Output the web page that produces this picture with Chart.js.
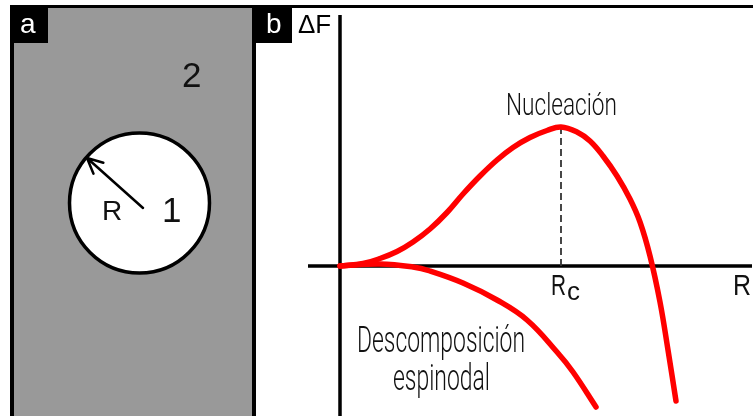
<!DOCTYPE html>
<html>
<head>
<meta charset="utf-8">
<script src="https://cdn.jsdelivr.net/npm/chart.js@4/dist/chart.umd.min.js"></script>
<style>
  html, body { margin: 0; padding: 0; background: #fff; }
  #wrap { width: 753px; height: 416px; }
</style>
</head>
<body>
<div id="wrap"><canvas id="c" width="753" height="416"></canvas></div>
<script>
// Free-energy change vs. radius (arbitrary units)
const nucleacionR = [0, 2.3, 4.0, 5.7, 7.3, 9.0, 10.7, 12.3, 14.0, 15.7, 17.3, 19.0, 20.7, 22.1, 23.7, 25.0, 26.3, 27.7, 29.0, 30.0, 31.0, 32.0, 32.8, 33.6];
const nucleacionF = [0, 0.25, 0.75, 1.45, 2.4, 3.7, 5.35, 7.2, 9.0, 10.6, 11.85, 12.85, 13.55, 13.9, 13.4, 12.5, 11.0, 9.0, 6.7, 4.4, 1.0, -3.6, -8.4, -13.5];
const espinodalR = [0, 4.0, 7.3, 9.0, 12.3, 15.7, 18.7, 21.7, 23.3, 25.6];
const espinodalF = [0, 0.2, -0.1, -0.5, -1.7, -3.4, -5.4, -8.6, -10.6, -14.1];

// Critical radius and barrier height
const rc = 22.1;
const rcPeak = 13.9;

const labelNucleacion = 'Nucleación';
const labelEspinodal = ['Descomposición', 'espinodal'];

const toPoints = (xs, ys) => xs.map((x, i) => ({ x, y: ys[i] }));

// Draw text stretched/condensed horizontally to a given ink width
function fitText(ctx, text, x, baseline, width, font, color) {
  ctx.save();
  ctx.font = font;
  const w = ctx.measureText(text).width;
  ctx.translate(x, baseline);
  ctx.scale(width / w, 1);
  ctx.fillStyle = color;
  ctx.textBaseline = 'alphabetic';
  ctx.textAlign = 'left';
  ctx.fillText(text, 0, 0);
  ctx.restore();
}

// Left panel: grain (1) of radius R inside matrix (2)
const panelA = {
  id: 'panelA',
  beforeDraw(chart) {
    const ctx = chart.ctx;
    ctx.save();
    ctx.fillStyle = '#fff';
    ctx.fillRect(0, 0, 753, 416);

    ctx.fillStyle = '#999999';
    ctx.fillRect(14, 8, 238, 408);

    ctx.fillStyle = '#000';
    ctx.fillRect(10, 5, 743, 3);
    ctx.fillRect(10, 5, 4, 411);
    ctx.fillRect(252, 5, 4, 411);

    // panel tags
    ctx.fillRect(10, 5, 38, 38);
    ctx.fillRect(255, 5, 37, 38);
    ctx.fillStyle = '#fff';
    ctx.font = '28px "Liberation Sans", Arial, sans-serif';
    ctx.textBaseline = 'alphabetic';
    ctx.fillText('a', 20, 33);
    ctx.fillText('b', 266, 33);

    // grain
    ctx.beginPath();
    ctx.arc(139.5, 203, 70, 0, Math.PI * 2);
    ctx.fillStyle = '#fff';
    ctx.fill();
    ctx.lineWidth = 3.5;
    ctx.strokeStyle = '#000';
    ctx.stroke();

    // radius arrow
    const cx = 143, cy = 208, tx = 87, ty = 158;
    ctx.lineWidth = 2.5;
    ctx.lineCap = 'round';
    ctx.beginPath();
    ctx.moveTo(cx, cy);
    ctx.lineTo(tx, ty);
    const ang = Math.atan2(cy - ty, cx - tx);
    const head = 17;
    for (const d of [-0.45, 0.45]) {
      ctx.moveTo(tx, ty);
      ctx.lineTo(tx + head * Math.cos(ang + d), ty + head * Math.sin(ang + d));
    }
    ctx.stroke();

    ctx.fillStyle = '#111';
    ctx.font = '28px "Liberation Sans", Arial, sans-serif';
    ctx.fillText('R', 102, 220);
    ctx.font = '35px "Liberation Sans", Arial, sans-serif';
    ctx.fillText('1', 162, 222);
    ctx.fillText('2', 182, 87);

    // ΔF axis title
    ctx.fillStyle = '#000';
    ctx.font = '26px "Liberation Sans", Arial, sans-serif';
    ctx.fillText('ΔF', 298, 33);
    ctx.restore();
  }
};

// Axes, critical-radius guide and curve labels
const axesAndLabels = {
  id: 'axesAndLabels',
  beforeDatasetsDraw(chart) {
    const ctx = chart.ctx;
    const xs = chart.scales.x, ys = chart.scales.y;
    const x0 = xs.getPixelForValue(0);
    const y0 = ys.getPixelForValue(0);
    ctx.save();
    ctx.strokeStyle = '#000';
    ctx.lineWidth = 3.5;
    ctx.beginPath();
    ctx.moveTo(xs.getPixelForValue(-3.2), y0);
    ctx.lineTo(752, y0);
    ctx.moveTo(x0, 15);
    ctx.lineTo(x0, 416);
    ctx.stroke();

    const xc = xs.getPixelForValue(rc);
    ctx.strokeStyle = '#333';
    ctx.lineWidth = 1.8;
    ctx.setLineDash([7, 4]);
    ctx.beginPath();
    ctx.moveTo(xc, y0);
    ctx.lineTo(xc, ys.getPixelForValue(rcPeak));
    ctx.stroke();
    ctx.setLineDash([]);

    const narrow = '300 {s}px Roboto, "Liberation Sans", sans-serif';
    fitText(ctx, labelNucleacion, xc - 55, 115, 111, narrow.replace('{s}', 32), '#111');
    fitText(ctx, labelEspinodal[0], 357, 352, 168, narrow.replace('{s}', 37), '#111');
    fitText(ctx, labelEspinodal[1], 393, 390, 97, narrow.replace('{s}', 37), '#111');

    const sans = '{s}px "Liberation Sans", Arial, sans-serif';
    fitText(ctx, 'R', xc - 10, 295, 15, sans.replace('{s}', 30), '#111');
    fitText(ctx, 'c', xc + 6, 300, 13, sans.replace('{s}', 25), '#111');
    fitText(ctx, 'R', 733, 295, 18, sans.replace('{s}', 30), '#111');
    ctx.restore();
  }
};

new Chart(document.getElementById('c'), {
  type: 'line',
  data: {
    datasets: [
      {
        label: 'Nucleación',
        data: toPoints(nucleacionR, nucleacionF),
        borderColor: '#ff0000',
        borderWidth: 5.5,
        pointRadius: 0,
        tension: 0.4,
        borderCapStyle: 'round',
        borderJoinStyle: 'round',
        clip: false
      },
      {
        label: 'Descomposición espinodal',
        data: toPoints(espinodalR, espinodalF),
        borderColor: '#ff0000',
        borderWidth: 5.5,
        pointRadius: 0,
        tension: 0.4,
        borderCapStyle: 'round',
        borderJoinStyle: 'round',
        clip: false
      }
    ]
  },
  options: {
    responsive: false,
    devicePixelRatio: 1,
    animation: false,
    events: [],
    layout: { padding: { left: 340, right: 3, top: 15, bottom: 0 } },
    plugins: { legend: { display: false }, tooltip: { enabled: false } },
    scales: {
      x: { type: 'linear', min: 0, max: 41, display: false },
      y: { type: 'linear', min: -15, max: 25.1, display: false }
    }
  },
  plugins: [panelA, axesAndLabels]
});
</script>
</body>
</html>
